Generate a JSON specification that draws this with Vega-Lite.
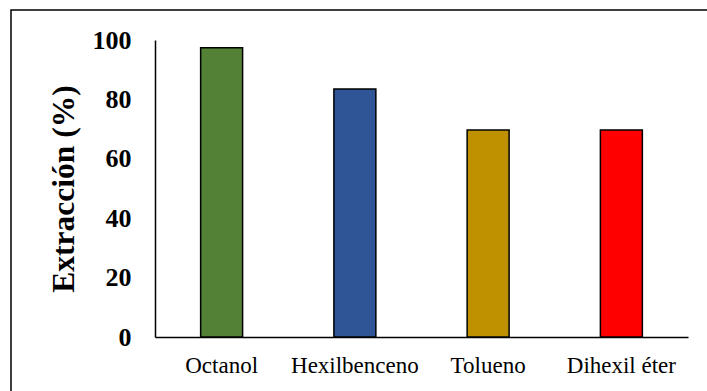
{
  "$schema": "https://vega.github.io/schema/vega-lite/v6.json",
  "autosize": {"type": "none"},
  "padding": {"left": 11, "top": 10, "right": 0, "bottom": 0},
  "width": 700,
  "height": 385,
  "background": "white",
  "config": {
    "view": {"stroke": "#000000", "strokeWidth": 1.5},
    "font": "Liberation Serif"
  },
  "data": {
    "values": [
      {"solvente": "Octanol", "extraccion": 97.4, "color": "#538135"},
      {"solvente": "Hexilbenceno", "extraccion": 83.5, "color": "#2F5597"},
      {"solvente": "Tolueno", "extraccion": 69.7, "color": "#BF9000"},
      {"solvente": "Dihexil éter", "extraccion": 69.7, "color": "#FF0000"}
    ]
  },
  "mark": {"type": "bar", "stroke": "#000000", "strokeWidth": 1.5},
  "encoding": {
    "x": {
      "field": "solvente",
      "type": "nominal",
      "sort": null,
      "scale": {"range": [144, 677], "paddingInner": 0.685, "paddingOuter": 0.3425},
      "axis": {
        "title": null,
        "labelAngle": 0,
        "labelFont": "Liberation Serif",
        "labelFontSize": 23,
        "labelColor": "#000000",
        "labelPadding": 17,
        "ticks": false,
        "tickSize": 0,
        "domainColor": "#000000",
        "domainWidth": 1.5,
        "offset": -58
      }
    },
    "y": {
      "field": "extraccion",
      "type": "quantitative",
      "scale": {"domain": [0, 100], "range": [327, 30], "nice": false},
      "axis": {
        "title": "Extracción (%)",
        "titleFont": "Liberation Serif",
        "titleFontSize": 31.5,
        "titleFontWeight": "bold",
        "titleColor": "#000000",
        "titleBaseline": "middle",
        "titleX": -91,
        "values": [0, 20, 40, 60, 80, 100],
        "labelFont": "Liberation Serif",
        "labelFontSize": 26,
        "labelFontWeight": "bold",
        "labelColor": "#000000",
        "labelPadding": 24,
        "ticks": false,
        "tickSize": 0,
        "grid": false,
        "domainColor": "#000000",
        "domainWidth": 1.5,
        "offset": -144
      }
    },
    "color": {"field": "color", "type": "nominal", "scale": null, "legend": null}
  }
}
